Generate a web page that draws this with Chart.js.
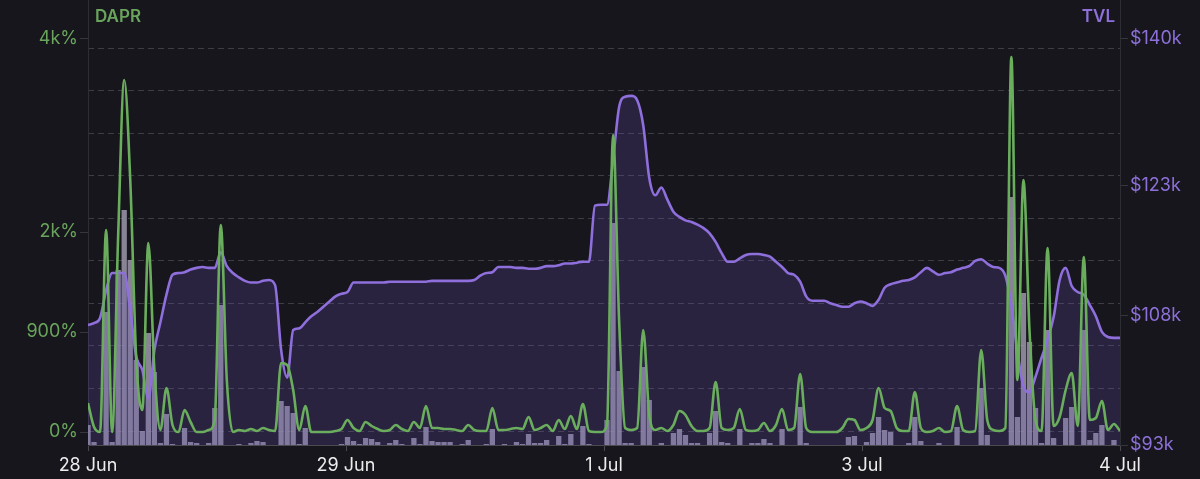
<!DOCTYPE html>
<html>
<head>
<meta charset="utf-8">
<script src="https://cdn.jsdelivr.net/npm/chart.js@4/dist/chart.umd.min.js"></script>
<style>
  html, body { margin: 0; padding: 0; background: #16161c; }
  #wrap { width: 1200px; height: 479px; position: relative; }
</style>
</head>
<body>
<div id="wrap"><canvas id="poolChart"></canvas></div>
<script>
// hourly samples, 28 Jun -> 4 Jul
const tvl = [
    106.9, 107.1, 107.7, 110.9, 112.9, 112.9, 112.9, 108.6, 103.2, 101.7, 98.4, 104.0,
    107.2, 110.4, 112.7, 112.9, 113.0, 113.3, 113.5, 113.6, 113.5, 113.5, 115.3, 113.7,
    112.9, 112.4, 112.0, 111.8, 111.8, 112.0, 112.1, 111.5, 104.0, 100.8, 106.3, 106.5,
    107.2, 107.9, 108.4, 109.0, 109.6, 110.2, 110.5, 110.7, 111.8, 111.8, 111.8, 111.8,
    111.8, 111.8, 111.9, 111.9, 111.9, 111.9, 111.9, 111.9, 111.9, 112.0, 112.0, 112.0,
    112.0, 112.0, 112.0, 112.0, 112.1, 112.6, 112.9, 113.0, 113.6, 113.6, 113.6, 113.5,
    113.5, 113.4, 113.4, 113.5, 113.7, 113.7, 113.8, 114.0, 114.0, 114.1, 114.2, 114.2,
    120.7, 120.8, 120.8, 126.0, 132.1, 133.3, 133.4, 132.9, 130.0, 123.9, 121.9, 122.8,
    121.4, 120.0, 119.4, 119.0, 118.8, 118.5, 118.1, 117.5, 116.5, 115.2, 114.2, 114.2,
    114.6, 115.0, 115.1, 115.1, 115.0, 114.8, 114.2, 113.6, 112.9, 112.7, 111.9, 110.2,
    109.7, 109.7, 109.7, 109.4, 109.2, 109.0, 109.0, 109.4, 109.6, 109.4, 109.1, 109.8,
    111.2, 111.6, 111.8, 112.0, 112.1, 112.4, 113.0, 113.5, 113.1, 112.7, 112.9, 113.0,
    113.3, 113.5, 113.7, 114.3, 114.5, 114.0, 113.6, 113.5, 112.6, 109.2, 103.8, 99.8,
    99.1, 100.9, 103.1, 105.2, 107.8, 112.1, 113.5, 111.4, 110.7, 110.4, 109.2, 107.9,
    106.1, 105.5, 105.4, 105.4
];

const dapr = [
    261, 45, 0, 1818, 0, 1773, 3168, 2268, 648, 198, 1701, 558,
    18, 396, 63, 0, 198, 90, 0, 0, 18, 108, 1863, 468,
    0, 18, 9, 27, 9, 36, 18, 9, 621, 603, 378, 18,
    234, 0, 0, 0, 0, 9, 27, 108, 36, 9, 90, 54,
    27, 9, 18, 63, 27, 9, 90, 36, 234, 36, 36, 27,
    27, 18, 9, 63, 18, 9, 9, 216, 18, 18, 27, 36,
    27, 135, 18, 36, 63, 9, 108, 27, 144, 27, 252, 9,
    0, 0, 63, 2673, 1008, 36, 18, 36, 918, 153, 18, 36,
    9, 63, 189, 153, 54, 9, 9, 36, 450, 36, 18, 36,
    207, 18, 9, 18, 81, 9, 63, 207, 18, 36, 522, 36,
    0, 0, 0, 0, 0, 36, 117, 108, 18, 36, 108, 396,
    216, 189, 36, 9, 9, 360, 36, 0, 9, 36, 0, 9,
    234, 18, 0, 9, 738, 108, 18, 9, 36, 3375, 468, 2268,
    918, 108, 9, 1656, 54, 135, 378, 531, 54, 1575, 108, 126,
    279, 18, 72, 9
];

const volume = [
    4000, 600, 0, 26600, 600, 35000, 47000, 37000, 17000, 2800, 22400, 14600,
    400, 6200, 200, 0, 3400, 600, 400, 0, 400, 7400, 28000, 0,
    0, 200, 0, 400, 800, 600, 0, 0, 8800, 7800, 6400, 200,
    3400, 0, 0, 0, 0, 0, 200, 1600, 800, 200, 1400, 1200,
    600, 0, 400, 1000, 200, 0, 1400, 200, 3600, 800, 600, 600,
    600, 0, 200, 1000, 0, 0, 200, 3200, 0, 200, 0, 600,
    200, 2200, 400, 400, 1000, 0, 1800, 200, 2200, 0, 3800, 200,
    0, 0, 5000, 44400, 14800, 400, 400, 0, 15600, 9000, 0, 400,
    0, 2400, 3200, 2000, 400, 400, 0, 2400, 6800, 600, 400, 0,
    3200, 0, 400, 400, 1200, 400, 0, 3200, 0, 0, 7600, 400,
    0, 0, 0, 0, 0, 0, 1600, 1800, 0, 600, 2400, 5600,
    3000, 2600, 0, 0, 400, 5600, 800, 0, 0, 400, 0, 0,
    3600, 0, 0, 0, 11400, 2000, 0, 0, 0, 49600, 5600, 30400,
    20600, 7400, 400, 23000, 1400, 0, 5400, 7600, 0, 23000, 1000, 2400,
    4000, 0, 1000, 0
];

const hours = Array.from({ length: tvl.length }, (_, i) => i);

const xTicks = [0, 42.75, 85.5, 128.25, 171];
const xTickLabels = ['28 Jun', '29 Jun', '1 Jul', '3 Jul', '4 Jul'];
const daprTicks = [0, 900, 1800, 3540];
const daprTickLabels = ['0%', '900%', '2k%', '4k%'];
const tvlTicks = [93, 108, 123, 140];
const tvlTickLabels = ['$93k', '$108k', '$123k', '$140k'];
const gridTicks = [0, 1, 2, 3, 4, 5, 6, 7, 8, 9];

const green = '#6aad5c';
const greenText = '#6aa45c';
const purple = '#8f6fdc';
const purpleText = '#8d70d8';

Chart.defaults.font.family = 'Inter, "Noto Sans", sans-serif';

const axisTitles = {
    id: 'axisTitles',
    afterDraw(chart) {
        const ctx = chart.ctx;
        const area = chart.chartArea;
        ctx.save();
        ctx.font = '600 17px Inter, "Noto Sans", sans-serif';
        ctx.textBaseline = 'middle';
        ctx.textAlign = 'left';
        ctx.fillStyle = greenText;
        ctx.fillText('DAPR', area.left + 7, 17);
        ctx.textAlign = 'right';
        ctx.fillStyle = purpleText;
        ctx.fillText('TVL', area.right - 5, 17);
        ctx.restore();
    }
};

function showPoolChart()
{
    const ctx = document.getElementById('poolChart').getContext('2d');

    new Chart(ctx, {
        type: 'line',
        data: {
            labels: hours,
            datasets: [{
                type: 'line',
                label: 'DAPR',
                data: dapr,
                yAxisID: 'dapr',
                borderColor: green,
                borderWidth: 2.6,
                pointRadius: 0,
                cubicInterpolationMode: 'monotone',
                fill: false,
                order: 0
            }, {
                type: 'line',
                label: 'TVL',
                data: tvl,
                yAxisID: 'tvl',
                borderColor: purple,
                backgroundColor: 'rgba(108, 82, 196, 0.22)',
                borderWidth: 2.6,
                pointRadius: 0,
                cubicInterpolationMode: 'monotone',
                fill: 'start',
                order: 1
            }, {
                type: 'bar',
                label: 'Volume',
                data: volume,
                yAxisID: 'vol',
                backgroundColor: 'rgba(165, 160, 180, 0.8)',
                borderWidth: 0,
                barPercentage: 0.88,
                categoryPercentage: 1,
                order: 2
            }]
        },
        options: {
            responsive: true,
            maintainAspectRatio: false,
            animation: false,
            layout: { padding: 0 },
            plugins: {
                legend: { display: false },
                tooltip: { enabled: false }
            },
            scales: {
                x: {
                    type: 'linear',
                    min: 0,
                    max: 171,
                    offset: false,
                    grid: {
                        offset: false,
                        drawOnChartArea: false,
                        drawTicks: true,
                        tickLength: 6,
                        color: '#4a4a50'
                    },
                    border: { color: '#4a4a50', width: 1 },
                    ticks: {
                        autoSkip: false,
                        maxRotation: 0,
                        padding: 4,
                        color: '#ececec',
                        font: { size: 18 },
                        callback: (v, i) => xTickLabels[i]
                    },
                    afterBuildTicks: s => { s.ticks = xTicks.map(v => ({ value: v })); },
                    afterFit: s => { s.height = 34; s.paddingLeft = 0; s.paddingRight = 0; }
                },
                dapr: {
                    type: 'linear',
                    position: 'left',
                    min: -117,
                    max: 3888,
                    grid: {
                        drawOnChartArea: false,
                        tickLength: 8,
                        color: '#35353c'
                    },
                    border: { color: '#2d2d34' },
                    ticks: {
                        autoSkip: false,
                        padding: 2,
                        color: greenText,
                        font: { size: 18 },
                        callback: (v, i) => daprTickLabels[i]
                    },
                    afterBuildTicks: s => { s.ticks = daprTicks.map(v => ({ value: v })); },
                    afterFit: s => { s.width = 88; s.paddingTop = 0; s.paddingBottom = 0; }
                },
                tvl: {
                    type: 'linear',
                    position: 'right',
                    min: 93,
                    max: 144.5,
                    grid: {
                        drawOnChartArea: false,
                        tickLength: 8,
                        color: '#35353c'
                    },
                    border: { color: '#2d2d34' },
                    ticks: {
                        autoSkip: false,
                        padding: 2,
                        color: purpleText,
                        font: { size: 18 },
                        callback: (v, i) => tvlTickLabels[i]
                    },
                    afterBuildTicks: s => { s.ticks = tvlTicks.map(v => ({ value: v })); },
                    afterFit: s => { s.width = 80; s.paddingTop = 0; s.paddingBottom = 0; }
                },
                gridLines: {
                    type: 'linear',
                    position: 'left',
                    min: -0.329,
                    max: 10.129,
                    ticks: { display: false },
                    grid: { color: '#3d3d44', drawTicks: false, lineWidth: 1 },
                    border: { display: false, dash: [6, 4] },
                    afterBuildTicks: s => { s.ticks = gridTicks.map(v => ({ value: v })); },
                    afterFit: s => { s.width = 0; s.paddingTop = 0; s.paddingBottom = 0; }
                },
                vol: {
                    type: 'linear',
                    min: 0,
                    max: 89000,
                    display: false
                }
            }
        },
        plugins: [axisTitles]
    });
}

showPoolChart();
</script>
</body>
</html>
